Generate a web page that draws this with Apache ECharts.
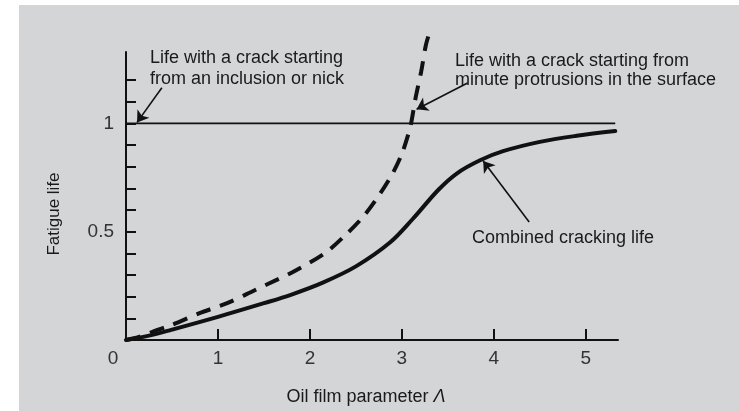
<!DOCTYPE html>
<html>
<head>
<meta charset="utf-8">
<script src="https://cdn.jsdelivr.net/npm/echarts@6/dist/echarts.min.js"></script>
<style>
html,body{margin:0;padding:0;background:#ffffff;}
#chart{width:739px;height:411px;}
</style>
</head>
<body>
<div id="chart"></div>
<script>
// ---- data ----
const xTickValues = [1, 2, 3, 4, 5];
const xLabelValues = [0, 1, 2, 3, 4, 5];
const yTickValues = [0.1, 0.2, 0.3, 0.4, 0.5, 0.6, 0.7, 0.8, 0.9, 1.0, 1.1, 1.2];
const yLabelValues = [0.5, 1];
const lifeInclusion = [[0, 1], [5.32, 1]];
const lifeProtrusion = [[0, 0], [0.15, 0.015], [0.3, 0.04], [0.5, 0.07], [0.8, 0.124], [1.1, 0.17], [1.4, 0.23],
  [1.65, 0.28], [1.84, 0.32], [2.16, 0.40], [2.4, 0.49], [2.59, 0.575], [2.76, 0.674], [2.9, 0.77],
  [3.0, 0.86], [3.07, 0.95], [3.1, 1.0], [3.15, 1.12], [3.21, 1.24], [3.26, 1.36], [3.3, 1.42]];
const combinedLife = [[0, 0], [0.25, 0.02], [0.5, 0.048], [1.0, 0.107], [1.5, 0.17], [1.8, 0.21], [2.14, 0.265],
  [2.5, 0.34], [2.87, 0.45], [3.12, 0.56], [3.4, 0.695], [3.6, 0.77], [3.85, 0.83], [4.1, 0.872],
  [4.5, 0.915], [4.9, 0.943], [5.32, 0.965]];
// arrows: [tail, tip] in data units
const arrowInclusion = [[0.39, 1.165], [0.12, 1.005]];
const arrowProtrusion = [[3.714, 1.187], [3.16, 1.066]];
const arrowCombined = [[4.384, 0.545], [3.884, 0.827]];
const textInclusion = 'Life with a crack starting\nfrom an inclusion or nick';
const textProtrusion = 'Life with a crack starting from\nminute protrusions in the surface';
const textCombined = 'Combined cracking life';
const xAxisName = 'Oil film parameter ';
const xAxisSymbol = 'Λ';
const yAxisName = 'Fatigue life';

const FONT = '"Liberation Sans", Arial, Helvetica, sans-serif';
const INK = '#1a1a1a';

const chart = echarts.init(document.getElementById('chart'), null, {renderer: 'canvas'});

function arrowPair(a) {
  return [{coord: a[0], symbol: 'none'}, {coord: a[1], symbol: 'arrow'}];
}

const option = {
  animation: false,
  backgroundColor: '#ffffff',
  grid: {left: 126, right: 121, top: 52, bottom: 69, containLabel: false},
  graphic: [
    {type: 'rect', z: -10, silent: true, shape: {x: 19, y: 5, width: 720, height: 406}, style: {fill: '#d4d5d7'}},
    {type: 'text', z: 10, style: {text: textInclusion, x: 150, y: 69, verticalAlign: 'middle', align: 'left',
      font: '18px ' + FONT, lineHeight: 21, fill: INK}},
    {type: 'text', z: 10, style: {text: textProtrusion, x: 455, y: 71, verticalAlign: 'middle', align: 'left',
      font: '18px ' + FONT, lineHeight: 19, fill: INK}},
    {type: 'text', z: 10, style: {text: textCombined, x: 472, y: 238, verticalAlign: 'middle', align: 'left',
      font: '18px ' + FONT, fill: INK}}
  ],
  xAxis: {
    type: 'value', min: 0, max: 5.35,
    name: xAxisName + '{i|' + xAxisSymbol + '}',
    nameLocation: 'middle', nameGap: 48,
    nameTextStyle: {fontFamily: FONT, fontSize: 18, color: INK, padding: [0, 12, 0, 0],
      rich: {i: {fontFamily: FONT, fontSize: 18, fontStyle: 'italic', color: INK}}},
    axisLine: {show: true, onZero: false, lineStyle: {color: '#111', width: 2}},
    axisTick: {show: true, inside: true, length: 11, customValues: xTickValues, lineStyle: {color: '#111', width: 2}},
    axisLabel: {customValues: xLabelValues, margin: 9, fontFamily: FONT, fontSize: 19, color: '#333',
      formatter: function (v) { return v === 0 ? '{z|0}' : String(v); },
      rich: {z: {fontFamily: FONT, fontSize: 19, color: '#333', padding: [0, 26, 0, 0]}}},
    splitLine: {show: false}
  },
  yAxis: {
    type: 'value', min: 0, max: 1.33,
    name: yAxisName, nameLocation: 'middle', nameGap: 63,
    nameTextStyle: {fontFamily: FONT, fontSize: 17, color: INK, padding: [0, 36, 0, 0]},
    axisLine: {show: true, onZero: false, lineStyle: {color: '#111', width: 2}},
    axisTick: {show: true, inside: true, length: 10, customValues: yTickValues, lineStyle: {color: '#111', width: 2}},
    axisLabel: {customValues: yLabelValues, margin: 12, fontFamily: FONT, fontSize: 19, color: '#333',
      formatter: function (v) { return Math.abs(v - 0.5) < 1e-6 ? '0.5' : (Math.abs(v - 1) < 1e-6 ? '1' : ''); }},
    splitLine: {show: false}
  },
  series: [
    {
      name: 'Inclusion', type: 'line', data: lifeInclusion, showSymbol: false, silent: true,
      lineStyle: {color: '#111', width: 1.8},
      markLine: {
        silent: true, symbolSize: 11, label: {show: false},
        lineStyle: {color: '#111', width: 1.6, type: 'solid'},
        data: [arrowPair(arrowInclusion), arrowPair(arrowProtrusion), arrowPair(arrowCombined)]
      }
    },
    {
      name: 'Protrusion', type: 'line', data: lifeProtrusion, showSymbol: false, silent: true, clip: false,
      smooth: 0.3,
      lineStyle: {color: '#111', width: 4, type: [15, 10], cap: 'butt'}
    },
    {
      name: 'Combined', type: 'line', data: combinedLife, showSymbol: false, silent: true,
      smooth: 0.35,
      lineStyle: {color: '#111', width: 4, cap: 'round'}
    }
  ]
};
chart.setOption(option);
</script>
</body>
</html>
